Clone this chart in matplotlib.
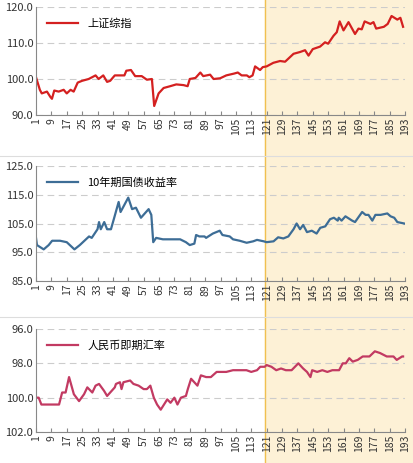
import matplotlib
matplotlib.use("Agg")
import matplotlib.pyplot as plt
from matplotlib.patches import Rectangle
from matplotlib.lines import Line2D

plt.rcParams['font.family'] = ['Noto Sans CJK SC', 'DejaVu Sans']

sh_x = [1,3,4,6.7,8.5,9.3,10.5,12.8,15.4,17,19,20.6,22.7,25,28.4,32,33.6,36,38,39.6,42,45,47,48,50.4,52.6,56,58.7,61.3,62.5,64.8,67.4,70.8,74,77.8,79.9,81,84,86.5,88,91.6,93.4,96.8,100,104,106,108,110.7,112,113.7,115,117.6,119,121,124.5,128,130.6,133,135,138.4,141,142.8,145,148.8,151.4,153,155.8,157.5,159,161,163.6,167,168.8,170.5,172,175,176.6,178,182,184,186,189,190.6,192]
sh_y = [100.5,97,96,96.5,95,94.5,96.8,96.5,97,96,97,96.5,99,99.5,100,101,100,101,99.2,99.5,101,101,101,102.3,102.5,100.8,100.8,99.8,100,92.5,96,97.5,98,98.5,98.3,98,100,100.3,101.8,100.8,101.2,100,100.2,101,101.5,101.8,101,101,100.5,101,103.5,102.5,103.3,103.5,104.5,105,104.8,106,107,107.5,108,106.5,108.3,109,110.2,109.8,112,113,116,113.5,115.8,112.5,114,113.8,116,115.3,115.8,114,114.5,115.3,117.5,116.5,117,114.5]

bd_x = [1,1.5,5,7.6,9.4,13.5,17,21,23.8,28.6,30,33,33.8,34.7,36.5,38,40,41.7,44,45,49,51,53,55.6,59.6,61,62,63.5,67,70.5,76,79,81,83.4,84.3,86,88.7,89.5,93,96.6,98,101.8,103.5,107,110.6,114,116,119.5,121,124.6,127,129.7,132.3,135,136.6,138.4,140,142,144.5,147,148.9,151.5,154,156,158,158.5,160,162,165.5,167,170.7,172.5,174,176,177.6,180.3,183.8,185.5,187.4,189,192.6]
bd_y = [100,97.5,96,97.5,99,99,98.5,96,97.5,100.5,100,103,105.5,103,105.5,103,103,107,112.5,109,114,110,110.5,107,110,108,98.5,100,99.5,99.5,99.5,98.5,97.5,98,101,100.5,100.5,100,101.5,102.5,101,100.5,99.5,99,98.3,98.8,99.3,98.8,98.5,98.8,100.2,99.8,100.5,103,105,103,104.5,102,102.5,101.5,103.5,104,106.5,107,106,107,106,107.5,106,105.5,109,108,108,106,108,108,108.5,107.5,107,105.5,105]

fx_x = [1,2.4,3.8,6.8,13,14.6,16.4,18.2,20.7,23.4,26,27.7,30.3,32,33.8,36.4,38,42,42.6,44.7,45.5,46.5,50,51.7,54.4,57,58.7,60.5,62.3,64,65.9,67.6,69.3,71,73,74.6,76.4,79,80,81.7,85,86.8,89.5,92,95,96.6,100,103.5,107,110.5,113,116,117.7,120,121,123.5,126,128.5,131,134,137.5,140,142,143.8,144.7,147.3,150,152.6,155.2,158.7,160.6,162.2,164,165.8,168.4,171,174.5,177.3,180,183.5,185,187,188.7,191.5,192]
fx_y = [100,100,100.4,100.4,100.4,99.7,99.7,98.8,99.8,100.2,99.8,99.4,99.7,99.3,99.2,99.6,99.9,99.4,99.2,99.1,99.5,99.1,99,99.2,99.3,99.5,99.5,99.3,100,100.4,100.7,100.4,100.1,100.3,100,100.4,100,99.9,99.5,98.9,99.3,98.7,98.8,98.8,98.5,98.5,98.5,98.4,98.4,98.4,98.5,98.4,98.2,98.2,98.1,98.2,98.4,98.3,98.4,98.4,98.0,98.3,98.5,98.8,98.4,98.5,98.4,98.5,98.4,98.4,98.0,98.0,97.7,97.9,97.8,97.6,97.6,97.3,97.4,97.6,97.6,97.6,97.8,97.6,97.6]

xticks = list(range(1, 194, 8))

fig = plt.figure(figsize=(4.13, 4.63), dpi=100)
W, H = 413, 463
# shaded region and separators
fig.patches.append(Rectangle((265/W, 0), 1, 1, transform=fig.transFigure, color='#fdf1d6', zorder=-10))
fig.lines.append(Line2D([265/W, 265/W], [0, 1], transform=fig.transFigure, color='#f0c050', lw=1, zorder=-5))
for yy in [156, 317]:
    fig.lines.append(Line2D([0, 1], [1-yy/H, 1-yy/H], transform=fig.transFigure, color='#dddddd', lw=0.8))

panels = [
    (7, 115, sh_x, sh_y, '#d42020', '上证综指', (90, 120), [90, 100, 110, 120], False),
    (166, 281, bd_x, bd_y, '#3d6d96', '10年期国债收益率', (85, 125), [85, 95, 105, 115, 125], False),
    (329, 432, fx_x, fx_y, '#c23a62', '人民币即期汇率', (96, 102), [96, 98, 100, 102], True),
]
for top, bot, xs, ys, col, lab, ylim, yt, inv in panels:
    ax = fig.add_axes([36/W, 1-bot/H, (405-36)/W, (bot-top)/H])
    ax.set_facecolor('none')
    ax.plot(xs, ys, color=col, lw=1.6, label=lab)
    ax.set_xlim(1, 193)
    ax.set_ylim(*ylim)
    if inv:
        ax.set_ylim(ylim[1], ylim[0])
    ax.set_yticks(yt)
    ax.set_yticklabels([f'{v:.1f}' for v in yt], fontsize=8, color='#333333')
    ax.set_xticks(xticks)
    ax.set_xticklabels([str(t) for t in xticks], rotation=90, fontsize=7.5, color='#333333')
    ax.tick_params(axis='y', length=0, pad=2)
    ax.tick_params(axis='x', length=3, direction='in', color='#888888', pad=2)
    ax.grid(axis='y', ls=(0, (6, 4)), color='#cccccc', lw=0.8)
    for s in ['top', 'right']:
        ax.spines[s].set_visible(False)
    for s in ['left', 'bottom']:
        ax.spines[s].set_color('#888888')
        ax.spines[s].set_linewidth(0.8)
    ax.legend(loc='upper left', frameon=False, fontsize=8, handlelength=2.8, borderaxespad=0.6)

fig.savefig('out.png', dpi=100)
